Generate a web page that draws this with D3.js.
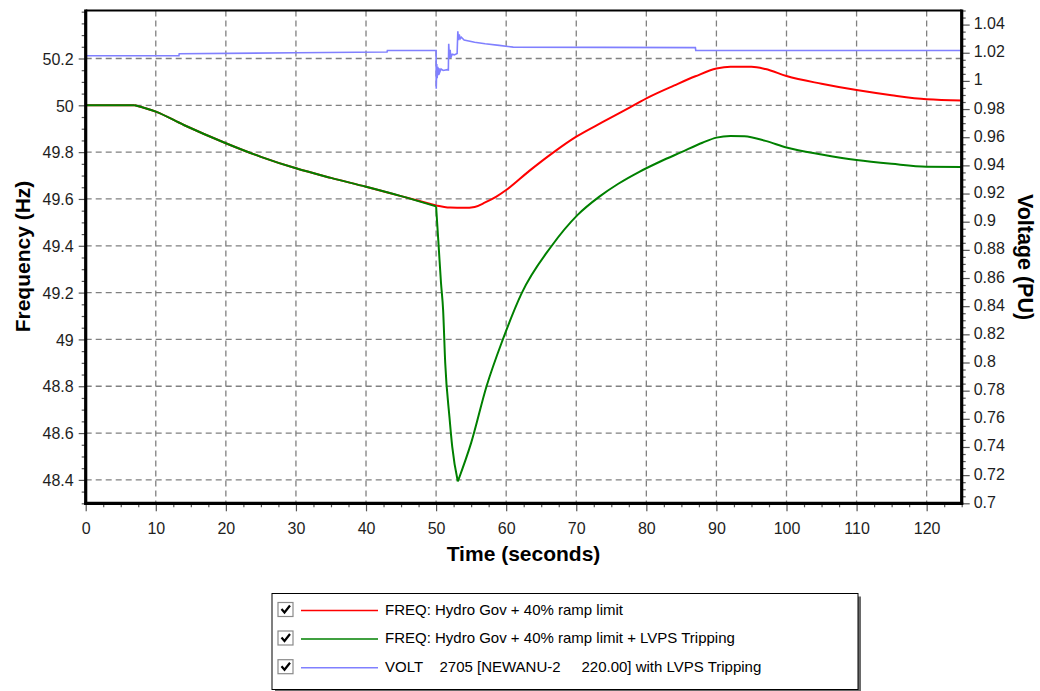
<!DOCTYPE html>
<html>
<head>
<meta charset="utf-8">
<script src="https://cdn.jsdelivr.net/npm/d3@7"></script>
<style>
  html, body { margin: 0; padding: 0; background: #fff; }
  svg { display: block; font-family: "Liberation Sans", Arial, sans-serif; }
</style>
</head>
<body>
<svg id="chart" width="1040" height="691"></svg>
<script>
// ---- tick values ----
const xTicks = [0, 10, 20, 30, 40, 50, 60, 70, 80, 90, 100, 110, 120];
const freqTicks = [48.4, 48.6, 48.8, 49, 49.2, 49.4, 49.6, 49.8, 50, 50.2];
const voltTicks = [0.7, 0.72, 0.74, 0.76, 0.78, 0.8, 0.82, 0.84, 0.86, 0.88, 0.9,
                   0.92, 0.94, 0.96, 0.98, 1, 1.02, 1.04];

// ---- FREQ: Hydro Gov + 40% ramp limit ----
const timeRed = [0, 7, 10, 14, 20, 25, 30, 35, 40, 45, 50, 52, 54, 55.5, 57, 58.6, 60,
                 63.3, 66.7, 70, 73.8, 77.6, 80.5, 84, 87, 90, 92, 95, 97, 100, 105,
                 110, 115, 120, 125];
const freqRed = [50, 50, 49.973, 49.916, 49.838, 49.78, 49.731, 49.69, 49.652, 49.612,
                 49.572, 49.563, 49.562, 49.566, 49.585, 49.61, 49.638, 49.72, 49.798,
                 49.866, 49.929, 49.99, 50.037, 50.085, 50.124, 50.157, 50.165, 50.165,
                 50.155, 50.125, 50.092, 50.065, 50.043, 50.026, 50.021];

// ---- FREQ: Hydro Gov + 40% ramp limit + LVPS Tripping ----
const timeGreen = [0, 7, 10, 14, 20, 25, 30, 35, 40, 45, 50, 50.4, 50.7, 51, 51.3, 51.9,
                   52.3, 53.1, 55, 57.2, 59.5, 62.2, 66.4, 70.2, 73.3, 76, 79, 82, 85,
                   88, 90, 92, 94, 97, 100, 105, 110, 115, 120, 125];
const freqGreen = [50, 50, 49.973, 49.916, 49.838, 49.78, 49.731, 49.69, 49.652, 49.612,
                   49.568, 49.382, 49.241, 49.126, 48.9, 48.67, 48.542, 48.393, 48.558,
                   48.8, 48.998, 49.197, 49.396, 49.532, 49.61, 49.665, 49.716, 49.76,
                   49.8, 49.84, 49.862, 49.869, 49.868, 49.848, 49.82, 49.79, 49.766,
                   49.75, 49.738, 49.737];

// ---- VOLT 2705 [NEWANU-2 220.00] with LVPS Tripping (PU) ----
const timeVolt = [0, 13.3, 13.35, 30, 43, 43.05, 50, 50.02, 50.1, 50.15, 50.25, 50.3,
                  50.4, 50.5, 50.7, 51, 51.6, 51.75, 51.8, 51.9, 52, 52.1, 52.3, 52.6,
                  53, 53.1, 53.2, 53.3, 53.45, 53.6, 54, 55.5, 57, 59, 61, 87, 87.05, 125];
const voltage = [1.0179, 1.0179, 1.0193, 1.02, 1.0205, 1.0216, 1.0216, 0.9945, 1.012,
                 1.002, 1.01, 1.004, 1.009, 1.006, 1.0085, 1.0074, 1.008, 1.0078, 1.0264,
                 1.016, 1.022, 1.0165, 1.019, 1.0185, 1.0195, 1.0353, 1.029, 1.033, 1.03,
                 1.031, 1.029, 1.0275, 1.0264, 1.0252, 1.024, 1.0236, 1.0216, 1.0216];

// instants where a trace turns sharply (disturbance, trip, nadir)
const redCorners = [7, 50];
const greenCorners = [7, 50, 53.1];

const legendLabels = [
  "FREQ: Hydro Gov + 40% ramp limit",
  "FREQ: Hydro Gov + 40% ramp limit + LVPS Tripping",
  "VOLT    2705 [NEWANU-2     220.00] with LVPS Tripping"
];
const seriesColors = ["#ff0000", "#008000", "#8080ff"];

// ---- layout ----
const plot = { left: 85.7, right: 961.7, top: 10.5, bottom: 503.3 };
const svg = d3.select("#chart");

const x = d3.scaleLinear().domain([0, 125]).range([plot.left, plot.right]);
const yF = d3.scaleLinear().domain([48.3, 50.405]).range([plot.bottom, plot.top]);
const yV = d3.scaleLinear().domain([0.7, 1.05]).range([plot.bottom, plot.top]);

const fmt = d => String(+(+d).toFixed(2));
const labelColor = "#1e1e1e";
const tickColor = "#555";

// ---- grid ----
const grid = svg.append("g").attr("stroke", "#808080").attr("stroke-width", 1.3)
  .attr("stroke-dasharray", "6,4").attr("fill", "none");
grid.selectAll("line.v").data(xTicks.filter(d => d > 0)).join("line")
  .attr("x1", d => x(d)).attr("x2", d => x(d))
  .attr("y1", plot.top).attr("y2", plot.bottom);
grid.selectAll("line.h").data(freqTicks).join("line")
  .attr("x1", plot.left).attr("x2", plot.right)
  .attr("y1", d => yF(d)).attr("y2", d => yF(d));

// ---- minor ticks ----
const xMinor = d3.range(0, 125.01, 2.5).filter(d => Math.abs(d % 10) > 1e-6);
const fMinor = d3.range(48.3, 50.401, 0.05).map(d => +d.toFixed(2))
  .filter(d => !freqTicks.some(t => Math.abs(t - d) < 1e-6));
const vMinor = d3.range(0.7, 1.0501, 0.005).map(d => +d.toFixed(3))
  .filter(d => !voltTicks.some(t => Math.abs(t - d) < 1e-6));

function styleAxis(g) {
  g.select(".domain").remove();
  g.selectAll(".tick line").attr("stroke", tickColor).attr("stroke-width", 1.2);
  g.selectAll("text").attr("fill", labelColor).attr("font-size", 16)
    .attr("font-family", "'Liberation Sans', Arial, sans-serif");
}

svg.append("g").attr("transform", `translate(0,${plot.bottom})`)
  .call(d3.axisBottom(x).tickValues(xMinor).tickSize(4).tickFormat(""))
  .call(styleAxis);
svg.append("g").attr("transform", `translate(${plot.left},0)`)
  .call(d3.axisLeft(yF).tickValues(fMinor).tickSize(4).tickFormat(""))
  .call(styleAxis);
svg.append("g").attr("transform", `translate(${plot.right},0)`)
  .call(d3.axisRight(yV).tickValues(vMinor).tickSize(4).tickFormat(""))
  .call(styleAxis);

// ---- major ticks + labels ----
const xAxis = svg.append("g").attr("transform", `translate(0,${plot.bottom})`)
  .call(d3.axisBottom(x).tickValues(xTicks).tickSize(8).tickFormat(fmt))
  .call(styleAxis);
xAxis.selectAll("text").attr("y", 31).attr("dy", null);

const fAxis = svg.append("g").attr("transform", `translate(${plot.left},0)`)
  .call(d3.axisLeft(yF).tickValues(freqTicks).tickSize(7).tickFormat(fmt))
  .call(styleAxis);
fAxis.selectAll("text").attr("x", -12).attr("dy", null).attr("y", 5.7);

const vAxis = svg.append("g").attr("transform", `translate(${plot.right},0)`)
  .call(d3.axisRight(yV).tickValues(voltTicks).tickSize(8).tickFormat(fmt))
  .call(styleAxis);
vAxis.selectAll("text").attr("x", 12).attr("dy", null).attr("y", 4);

// ---- series ----
svg.append("clipPath").attr("id", "plotClip").append("rect")
  .attr("x", plot.left).attr("y", plot.top)
  .attr("width", plot.right - plot.left).attr("height", plot.bottom - plot.top);
const series = svg.append("g").attr("clip-path", "url(#plotClip)").attr("fill", "none");

const freqLine = d3.line().x(d => x(d[0])).y(d => yF(d[1])).curve(d3.curveMonotoneX);
const voltLine = d3.line().x(d => x(d[0])).y(d => yV(d[1]));

// split a trace at its corner instants so each piece is smoothed on its own
function pieces(times, values, corners) {
  const pts = d3.zip(times, values);
  const cuts = [times[0], ...corners, times[times.length - 1]];
  const out = [];
  for (let i = 0; i < cuts.length - 1; i++) {
    out.push(pts.filter(p => p[0] >= cuts[i] - 1e-9 && p[0] <= cuts[i + 1] + 1e-9));
  }
  return out;
}

series.append("path")
  .attr("d", pieces(timeRed, freqRed, redCorners).map(freqLine).join(""))
  .attr("stroke", seriesColors[0]).attr("stroke-width", 2).attr("stroke-linejoin", "round");
series.append("path")
  .attr("d", pieces(timeGreen, freqGreen, greenCorners).map(freqLine).join(""))
  .attr("stroke", seriesColors[1]).attr("stroke-width", 2).attr("stroke-linejoin", "round");
series.append("path").attr("d", voltLine(d3.zip(timeVolt, voltage)))
  .attr("stroke", seriesColors[2]).attr("stroke-width", 1.6);

// ---- frame ----
const frame = svg.append("g").attr("stroke", "#000").attr("fill", "none");
frame.append("line").attr("x1", plot.left).attr("x2", plot.right)
  .attr("y1", plot.top).attr("y2", plot.top).attr("stroke-width", 2);
frame.append("line").attr("x1", plot.left).attr("x2", plot.left)
  .attr("y1", plot.top - 1).attr("y2", plot.bottom + 1.5).attr("stroke-width", 3.2);
frame.append("line").attr("x1", plot.right).attr("x2", plot.right)
  .attr("y1", plot.top - 1).attr("y2", plot.bottom + 1.5).attr("stroke-width", 3.2);
frame.append("line").attr("x1", plot.left - 1.5).attr("x2", plot.right + 1.5)
  .attr("y1", plot.bottom).attr("y2", plot.bottom).attr("stroke-width", 3.2);

// ---- axis titles ----
svg.append("text").text("Time (seconds)")
  .attr("x", 523.5).attr("y", 561).attr("text-anchor", "middle")
  .attr("font-weight", "bold").attr("font-size", 21).attr("fill", "#000");
svg.append("text").text("Frequency (Hz)")
  .attr("transform", "translate(30,256.5) rotate(-90)").attr("text-anchor", "middle")
  .attr("font-weight", "bold").attr("font-size", 21).attr("fill", "#000");
svg.append("text").text("Voltage (PU)")
  .attr("transform", "translate(1018,257) rotate(90)").attr("text-anchor", "middle")
  .attr("font-weight", "bold").attr("font-size", 21.5).attr("fill", "#000");

// ---- legend ----
const lg = { x: 272, y: 593.5, w: 586, h: 96 };
svg.append("rect").attr("x", lg.x + 3).attr("y", lg.y + 3)
  .attr("width", lg.w).attr("height", lg.h).attr("fill", "#6a6a6a");
svg.append("rect").attr("x", lg.x).attr("y", lg.y)
  .attr("width", lg.w).attr("height", lg.h)
  .attr("fill", "#fff").attr("stroke", "#000").attr("stroke-width", 1);

const rowY = [609.5, 638, 666.7];
const rows = svg.append("g").selectAll("g").data(legendLabels).join("g")
  .attr("transform", (d, i) => `translate(0,${rowY[i]})`);
rows.append("rect").attr("x", 278).attr("y", -7).attr("width", 15).attr("height", 14)
  .attr("fill", "#fff").attr("stroke", "#8a8a8a").attr("stroke-width", 1.2);
rows.append("path").attr("d", "M281.5,-0.5 L284.5,3 L290,-4")
  .attr("fill", "none").attr("stroke", "#000").attr("stroke-width", 2.2);
rows.append("line").attr("x1", 301).attr("x2", 378).attr("y1", 1).attr("y2", 1)
  .attr("stroke", (d, i) => seriesColors[i]).attr("stroke-width", 1.5);
rows.append("text").text(d => d)
  .attr("x", 385).attr("y", 5.3).attr("font-size", 15).attr("fill", "#000")
  .style("white-space", "pre");
</script>
</body>
</html>
